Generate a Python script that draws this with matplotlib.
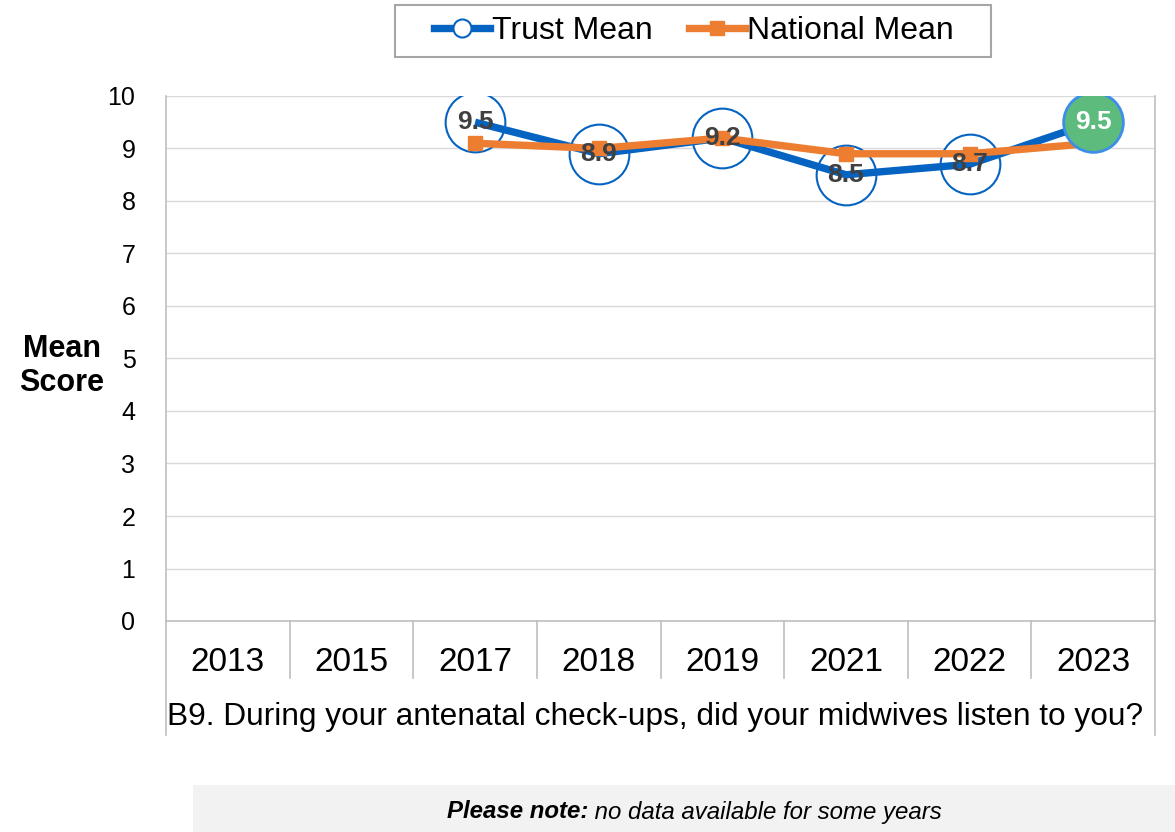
import numpy as np
import matplotlib
matplotlib.use("Agg")
import matplotlib.pyplot as plt
from matplotlib.lines import Line2D
from matplotlib.patches import Rectangle

plt.rcParams["font.family"] = ["Liberation Sans", "DejaVu Sans"]

years = ["2013", "2015", "2017", "2018", "2019", "2021", "2022", "2023"]
trust_mean = [np.nan, np.nan, 9.5, 8.9, 9.2, 8.5, 8.7, 9.5]
national_mean = [np.nan, np.nan, 9.1, 9.0, 9.2, 8.9, 8.9, 9.1]
question = "B9. During your antenatal check-ups, did your midwives listen to you?"
note_bold = "Please note:"
note_rest = " no data available for some years"

blue = "#0563C1"
orange = "#ED7D31"
green = "#5DBB7E"
grid_col = "#D9D9D9"
axis_col = "#BFBFBF"

W, H = 1175, 832
fig = plt.figure(figsize=(W / 100, H / 100), dpi=100)
ax = fig.add_axes([166 / W, 1 - 621 / H, (1155 - 166) / W, (621 - 96) / H])

x = np.arange(len(years))

# lines
ax.plot(x, trust_mean, color=blue, lw=5.3, zorder=3, solid_capstyle="butt")
ax.plot(x, national_mean, color=orange, lw=5.3, zorder=4,
        marker="s", markersize=10, markerfacecolor=orange, markeredgecolor=orange)

# trust markers: white circles, last one green
last = len(years) - 1
for i, v in enumerate(trust_mean):
    if np.isnan(v):
        continue
    if i == last:
        ax.plot(x[i], v, "o", markersize=43, markerfacecolor=green,
                markeredgecolor="#3D8EE8", markeredgewidth=2, zorder=5)
        ax.text(x[i], v, f"{v:.1f}", ha="center", va="center", fontsize=19,
                fontweight="bold", color="white", zorder=7)
    else:
        ax.plot(x[i], v, "o", markersize=43, markerfacecolor="white",
                markeredgecolor=blue, markeredgewidth=1.5, zorder=2)
        ax.text(x[i], v, f"{v:.1f}", ha="center", va="center", fontsize=19,
                fontweight="bold", color="#404040", zorder=6)

ax.set_xlim(-0.5, len(years) - 0.5)
ax.set_ylim(0, 10)
ax.set_yticks(range(0, 11))
ax.tick_params(axis="y", labelsize=18, length=0, pad=22)
ax.set_xticks(x)
ax.set_xticklabels(years, fontsize=24)
ax.tick_params(axis="x", length=0, pad=19)
ax.yaxis.grid(True, color=grid_col, lw=1)
ax.set_axisbelow(True)
ax.spines["top"].set_visible(False)
for side in ["left", "right", "bottom"]:
    ax.spines[side].set_color(axis_col)
    ax.spines[side].set_linewidth(1.2)

# category separators
tr = ax.get_xaxis_transform()
for b in np.arange(0.5, len(years) - 1, 1.0):
    ax.plot([b, b], [0, -57 / 525], color=axis_col, lw=1.2, transform=tr, clip_on=False)
for b in [-0.5, len(years) - 0.5]:
    ax.plot([b, b], [0, -114 / 525], color=axis_col, lw=1.2, transform=tr, clip_on=False)

ax.text(-0.49, -96 / 525, question, transform=tr, ha="left", va="center", fontsize=22.8)

fig.text(62 / W, 1 - 366 / H, "Mean\nScore", ha="center", va="center",
         fontsize=22, fontweight="bold", linespacing=1.2)

# legend
fig.patches.append(Rectangle((395 / W, 1 - 57 / H), 596 / W, 52 / H, transform=fig.transFigure,
                             facecolor="white", edgecolor="#A6A6A6", lw=1.5, zorder=0))
handles = [
    Line2D([], [], color=blue, lw=5.3, marker="o", markersize=13,
           markerfacecolor="white", markeredgecolor=blue, markeredgewidth=1.5),
    Line2D([], [], color=orange, lw=5.3, marker="s", markersize=10,
           markerfacecolor=orange, markeredgecolor=orange),
]
fig.legend(handles, ["Trust Mean", "National Mean"], loc="center",
           bbox_to_anchor=(694 / W, 1 - 31 / H), ncol=2, fontsize=23,
           frameon=False, handlelength=1.75, handletextpad=0.05,
           columnspacing=1.15, borderpad=0.3)

# note box
fig.patches.append(Rectangle((193 / W, 0), 1 - 193 / W, 47 / H, transform=fig.transFigure,
                             facecolor="#F2F2F2", edgecolor="none", zorder=0))
fig.text(588 / W, 1 - 812 / H, note_bold, ha="right", va="center",
         fontsize=17.3, fontweight="bold", style="italic")
fig.text(588 / W, 1 - 812 / H, note_rest, ha="left", va="center",
         fontsize=17.3, style="italic")

fig.savefig("out.png", dpi=100)
